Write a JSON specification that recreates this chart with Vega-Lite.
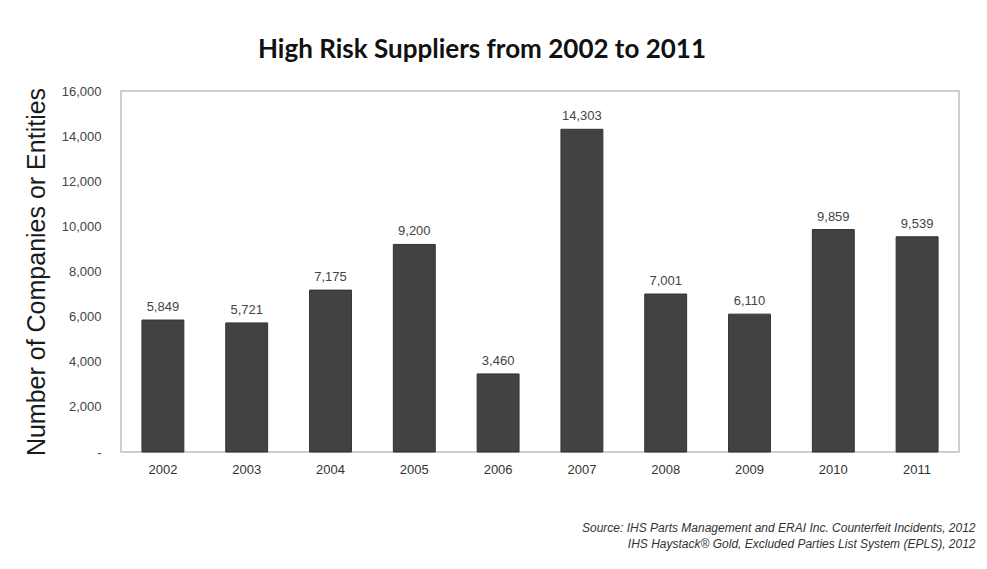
{
  "$schema": "https://vega.github.io/schema/vega-lite/v6.json",
  "autosize": {"type": "none"},
  "padding": {"left": 121, "top": 91, "right": 28, "bottom": 117},
  "width": 838,
  "height": 361,
  "background": "white",
  "title": {
    "text": "High Risk Suppliers from 2002 to 2011",
    "font": "Lato",
    "fontSize": 26,
    "fontWeight": "bold",
    "color": "#111111",
    "anchor": "middle",
    "frame": "group",
    "dx": -58,
    "offset": 22
  },
  "config": {
    "view": {"stroke": "#bfbfbf", "strokeWidth": 1.5},
    "axis": {"labelFont": "Liberation Sans", "titleFont": "Liberation Sans", "grid": false, "domain": false, "ticks": false}
  },
  "data": {
    "values": [
      {"year": "2002", "count": 5849},
      {"year": "2003", "count": 5721},
      {"year": "2004", "count": 7175},
      {"year": "2005", "count": 9200},
      {"year": "2006", "count": 3460},
      {"year": "2007", "count": 14303},
      {"year": "2008", "count": 7001},
      {"year": "2009", "count": 6110},
      {"year": "2010", "count": 9859},
      {"year": "2011", "count": 9539}
    ]
  },
  "encoding": {
    "x": {
      "field": "year",
      "type": "nominal",
      "scale": {"paddingInner": 0.5, "paddingOuter": 0.25},
      "axis": {
        "labelAngle": 0,
        "labelFontSize": 13,
        "labelColor": "#333333",
        "labelPadding": 11,
        "title": ["Source: IHS Parts Management and ERAI Inc. Counterfeit Incidents, 2012", "IHS Haystack\u00ae Gold, Excluded Parties List System (EPLS), 2012"],
        "titleFont": "Liberation Sans",
        "titleFontStyle": "italic",
        "titleFontWeight": "normal",
        "titleFontSize": 12,
        "titleColor": "#333333",
        "titleAlign": "right",
        "titleAnchor": "end",
        "titleBaseline": "top",
        "titleX": 854,
        "titleY": 70,
        "titleLineHeight": 16
      }
    },
    "y": {
      "field": "count",
      "type": "quantitative",
      "scale": {"domain": [0, 16000], "nice": false},
      "axis": {
        "values": [0, 2000, 4000, 6000, 8000, 10000, 12000, 14000, 16000],
        "labelExpr": "datum.value == 0 ? '-' : format(datum.value, ',')",
        "labelFontSize": 13,
        "labelColor": "#444444",
        "labelPadding": 20,
        "title": "Number of Companies or Entities",
        "titleFontSize": 25,
        "titleFontWeight": "normal",
        "titleColor": "#1a1a1a",
        "titlePadding": 12
      }
    }
  },
  "layer": [
    {
      "mark": {"type": "bar", "color": "#424242", "stroke": "#333333", "strokeWidth": 1}
    },
    {
      "mark": {"type": "text", "baseline": "bottom", "dy": -6, "font": "Liberation Sans", "fontSize": 13, "color": "#444444"},
      "encoding": {"text": {"field": "count", "type": "quantitative", "format": ","}}
    }
  ]
}
